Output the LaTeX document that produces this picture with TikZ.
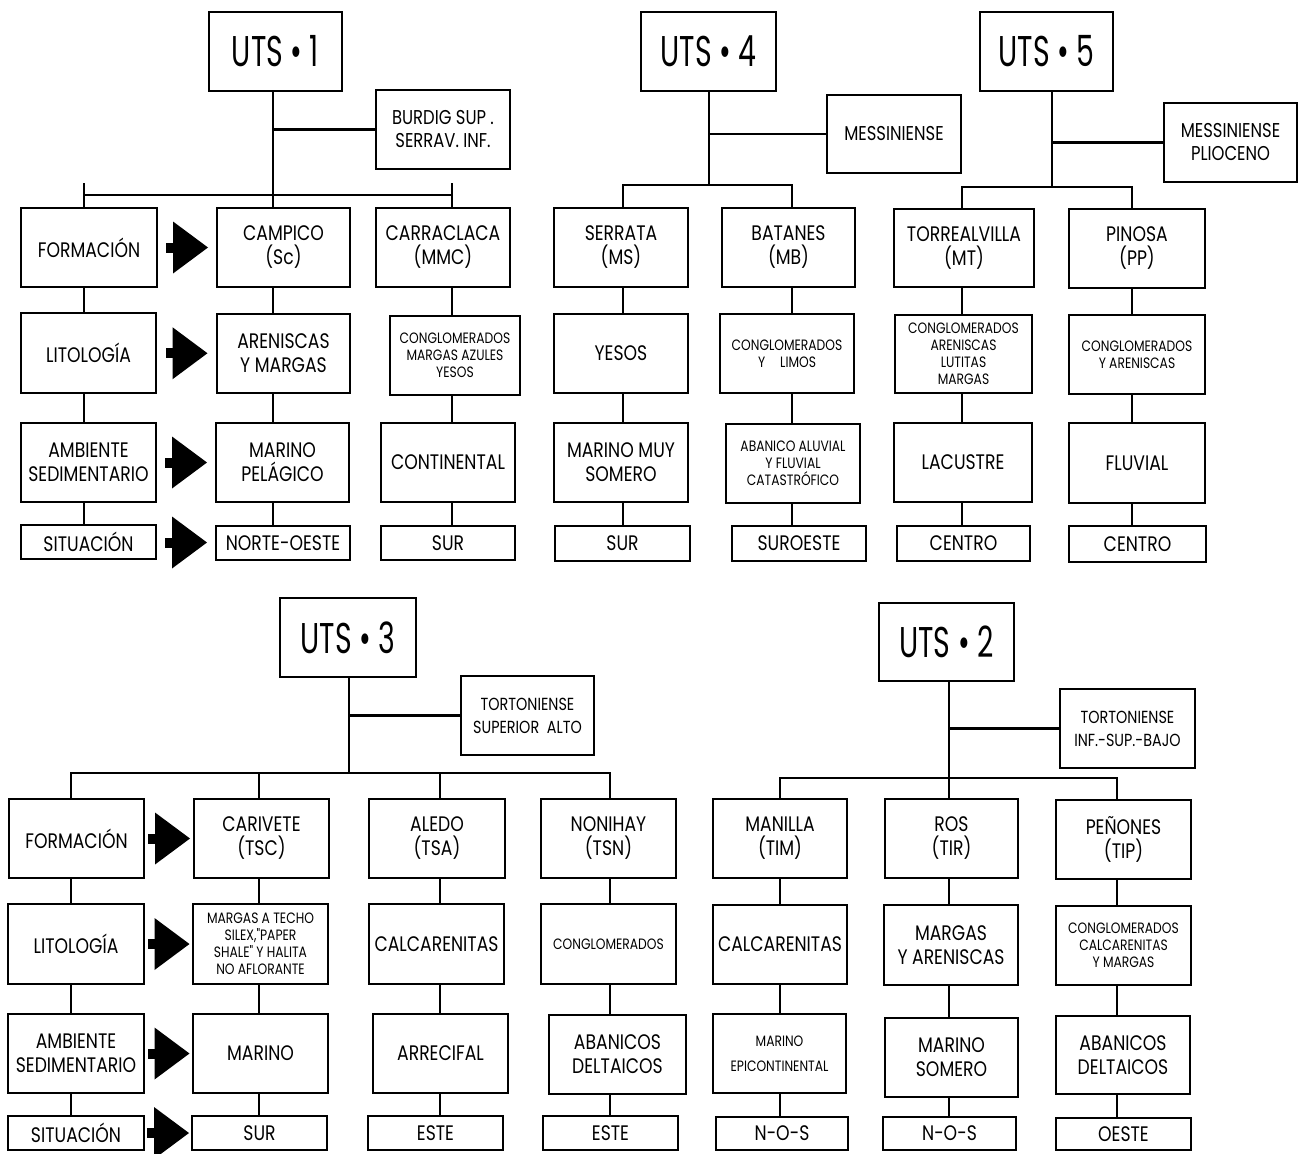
\documentclass[tikz,border=0pt]{standalone}
\usepackage{fontspec}
\newfontfamily\bodyfont{Poppins}[FakeStretch=0.82]
\newfontfamily\utsfont{Poppins}[FakeStretch=0.66]
\usetikzlibrary{calc}
\tikzset{
 box/.style={draw, line width=2.6pt, inner sep=0pt, align=center, font=\bodyfont\fontsize{21}{24}\selectfont},
 sm/.style={font=\bodyfont\fontsize{15}{17}\selectfont},
 md/.style={font=\bodyfont\fontsize{17.5}{23}\selectfont},
 mdl/.style={font=\bodyfont\fontsize{20}{23}\selectfont},
 uts/.style={font=\utsfont\fontsize{43}{44}\selectfont},
 link/.style={line width=2.1pt},
}
\newcommand\mybox[7][]{%
  \pgfmathsetmacro\bxcx{(#3+#5)/2}%
  \pgfmathsetmacro\bxcy{(#4+#6)/2}%
  \pgfmathsetmacro\bxw{#5-#3}%
  \pgfmathsetmacro\bxh{#6-#4}%
  \node[box,#1,minimum width=\bxw pt,minimum height=\bxh pt] (#2) at (\bxcx,\bxcy) {#7};}
\newcommand\vl[3]{\draw[link] (#1 |- #2.south) -- (#1 |- #3.north);}
\newcommand\barrow[2]{%
 \coordinate (m) at ($(#1.east)!0.5!(#2.west)$);
 \fill ([shift={(-21pt,-5pt)}]m) rectangle ([shift={(-13pt,5pt)}]m);
 \fill ([shift={(-14pt,-26pt)}]m) -- ([shift={(21pt,0pt)}]m) -- ([shift={(-14pt,26pt)}]m) -- cycle;}
\begin{document}
\begin{tikzpicture}[x=1pt,y=-1pt]
\useasboundingbox (0,0) rectangle (1300,1153);
% ---------- UTS 1
\mybox[uts]{uts1}{209}{12}{342}{91}{UTS • 1}
\mybox[mdl]{burdig}{376}{90}{510}{169}{BURDIG SUP .\\SERRAV. INF.}
\mybox{form1}{21}{208}{157}{287}{FORMACIÓN}
\mybox{campico}{217}{208}{350}{287}{CAMPICO\\(Sc)}
\mybox{carra}{376}{208}{510}{287}{CARRACLACA\\(MMC)}
\mybox{lit1}{21}{313}{156}{393}{LITOLOGÍA}
\mybox{aren1}{217}{314}{350}{393}{ARENISCAS\\Y MARGAS}
\mybox[sm]{congl1}{390}{316}{520}{395}{CONGLOMERADOS\\MARGAS AZULES\\YESOS}
\mybox{amb1}{21}{423}{156}{502}{AMBIENTE\\SEDIMENTARIO}
\mybox{marpel}{216}{423}{349}{502}{MARINO\\PELÁGICO}
\mybox{conti}{381}{423}{515}{502}{CONTINENTAL}
\mybox{sit1}{21}{525}{156}{559}{SITUACIÓN}
\mybox{noroe}{216}{526}{350}{560}{NORTE-OESTE}
\mybox{sur1}{381}{526}{515}{560}{SUR}
\coordinate (a0) at (84,183); \coordinate (a1) at (273,195); \coordinate (a2) at (452,183);
\draw[link] (a0 |- a1) -- (a2 |- a1);
\draw[link] (a0) -- (a0 |- form1.north);
\draw[link] (a2) -- (a2 |- carra.north);
\draw[link] (a1 |- uts1.south) -- (a1 |- campico.north);
\draw[link] (burdig.west -| a1) -- (burdig.west);
\vl{a0}{form1}{lit1} \vl{a0}{lit1}{amb1} \vl{a0}{amb1}{sit1}
\vl{a1}{campico}{aren1} \vl{a1}{aren1}{marpel} \vl{a1}{marpel}{noroe}
\vl{a2}{carra}{congl1} \vl{a2}{congl1}{conti} \vl{a2}{conti}{sur1}
\barrow{form1}{campico} \barrow{lit1}{aren1} \barrow{amb1}{marpel} \barrow{sit1}{noroe}
% ---------- UTS 4
\mybox[uts]{uts4}{641}{12}{776}{91}{UTS • 4}
\mybox[mdl]{mess}{827}{95}{961}{173}{MESSINIENSE}
\mybox{serrata}{554}{208}{688}{287}{SERRATA\\(MS)}
\mybox{batanes}{722}{208}{855}{287}{BATANES\\(MB)}
\mybox{yesos}{554}{314}{688}{393}{YESOS}
\mybox[sm]{conglim}{720}{314}{854}{393}{CONGLOMERADOS\\Y\quad LIMOS}
\mybox{mmsom}{554}{423}{688}{502}{MARINO MUY\\SOMERO}
\mybox[sm]{abal}{726}{424}{860}{503}{ABANICO ALUVIAL\\Y FLUVIAL\\CATASTRÓFICO}
\mybox{sur4}{555}{526}{690}{561}{SUR}
\mybox{suroe}{732}{526}{866}{561}{SUROESTE}
\coordinate (b0) at (623,185); \coordinate (b1) at (709,185); \coordinate (b2) at (792,185);
\draw[link] (b0 |- serrata.north) -- (b0) -- (b2) -- (b2 |- batanes.north);
\draw[link] (b1 |- uts4.south) -- (b1);
\draw[link] (mess.west -| b1) -- (mess.west);
\vl{b0}{serrata}{yesos} \vl{b0}{yesos}{mmsom} \vl{b0}{mmsom}{sur4}
\vl{b2}{batanes}{conglim} \vl{b2}{conglim}{abal} \vl{b2}{abal}{suroe}
% ---------- UTS 5
\mybox[uts]{uts5}{980}{12}{1113}{91}{UTS • 5}
\mybox[mdl]{mespl}{1164}{103}{1297}{182}{MESSINIENSE\\PLIOCENO}
\mybox{torre}{894}{209}{1034}{287}{TORREALVILLA\\(MT)}
\mybox{pinosa}{1069}{209}{1205}{288}{PINOSA\\(PP)}
\mybox[sm]{conglar}{895}{315}{1032}{393}{CONGLOMERADOS\\ARENISCAS\\LUTITAS\\MARGAS}
\mybox[sm]{conglar2}{1069}{315}{1205}{394}{CONGLOMERADOS\\Y ARENISCAS}
\mybox{lacus}{894}{423}{1032}{502}{LACUSTRE}
\mybox{fluv}{1069}{423}{1205}{503}{FLUVIAL}
\mybox{centro1}{897}{526}{1030}{561}{CENTRO}
\mybox{centro2}{1069}{526}{1206}{562}{CENTRO}
\coordinate (c0) at (962,187); \coordinate (c1) at (1052,187); \coordinate (c2) at (1132,187);
\draw[link] (c0 |- torre.north) -- (c0) -- (c2) -- (c2 |- pinosa.north);
\draw[link] (c1 |- uts5.south) -- (c1);
\draw[link] (mespl.west -| c1) -- (mespl.west);
\vl{c0}{torre}{conglar} \vl{c0}{conglar}{lacus} \vl{c0}{lacus}{centro1}
\vl{c2}{pinosa}{conglar2} \vl{c2}{conglar2}{fluv} \vl{c2}{fluv}{centro2}
% ---------- UTS 3
\mybox[uts]{uts3}{280}{598}{416}{677}{UTS • 3}
\mybox[md]{tortsup}{461}{676}{594}{755}{TORTONIENSE\\SUPERIOR\ \ ALTO}
\mybox{form3}{9}{799}{144}{878}{FORMACIÓN}
\mybox{carivete}{194}{799}{329}{878}{CARIVETE\\(TSC)}
\mybox{aledo}{369}{799}{505}{878}{ALEDO\\(TSA)}
\mybox{nonihay}{541}{799}{676}{878}{NONIHAY\\(TSN)}
\mybox{lit3}{8}{904}{144}{984}{LITOLOGÍA}
\mybox[sm]{margtecho}{193}{904}{328}{984}{MARGAS A TECHO\\SILEX,"PAPER\\SHALE" Y HALITA\\NO AFLORANTE}
\mybox{calc3}{369}{904}{504}{984}{CALCARENITAS}
\mybox[sm]{congl3}{541}{904}{676}{984}{CONGLOMERADOS}
\mybox{amb3}{8}{1014}{144}{1093}{AMBIENTE\\SEDIMENTARIO}
\mybox{marino3}{193}{1014}{328}{1093}{MARINO}
\mybox{arrec}{373}{1014}{508}{1093}{ARRECIFAL}
\mybox{abdel3}{549}{1015}{686}{1094}{ABANICOS\\DELTAICOS}
\mybox{sit3}{8}{1116}{144}{1150}{SITUACIÓN}
\mybox{sur3}{192}{1116}{327}{1150}{SUR}
\mybox{este1}{368}{1116}{503}{1150}{ESTE}
\mybox{este2}{543}{1116}{678}{1150}{ESTE}
\coordinate (d0) at (71,773); \coordinate (d1) at (259,773); \coordinate (dS) at (349,773);
\coordinate (d2) at (440,773); \coordinate (d3) at (610,773);
\draw[link] (d0 |- form3.north) -- (d0) -- (d3) -- (d3 |- nonihay.north);
\draw[link] (d1) -- (d1 |- carivete.north);
\draw[link] (d2) -- (d2 |- aledo.north);
\draw[link] (dS |- uts3.south) -- (dS);
\draw[link] (tortsup.west -| dS) -- (tortsup.west);
\vl{d0}{form3}{lit3} \vl{d0}{lit3}{amb3} \vl{d0}{amb3}{sit3}
\vl{d1}{carivete}{margtecho} \vl{d1}{margtecho}{marino3} \vl{d1}{marino3}{sur3}
\vl{d2}{aledo}{calc3} \vl{d2}{calc3}{arrec} \vl{d2}{arrec}{este1}
\vl{d3}{nonihay}{congl3} \vl{d3}{congl3}{abdel3} \vl{d3}{abdel3}{este2}
\barrow{form3}{carivete} \barrow{lit3}{margtecho} \barrow{amb3}{marino3} \barrow{sit3}{sur3}
% ---------- UTS 2
\mybox[uts]{uts2}{879}{603}{1014}{681}{UTS • 2}
\mybox[md]{tortinf}{1060}{689}{1195}{768}{TORTONIENSE\\INF.-SUP.-BAJO}
\mybox{manilla}{713}{799}{847}{878}{MANILLA\\(TIM)}
\mybox{ros}{885}{799}{1018}{878}{ROS\\(TIR)}
\mybox{penones}{1056}{800}{1191}{879}{PEÑONES\\(TIP)}
\mybox{calc2}{713}{905}{847}{984}{CALCARENITAS}
\mybox{margaren}{884}{905}{1018}{985}{MARGAS\\Y ARENISCAS}
\mybox[sm]{conglcalc}{1056}{906}{1191}{985}{CONGLOMERADOS\\CALCARENITAS\\Y MARGAS}
\mybox[sm]{marepi}{713}{1014}{846}{1093}{MARINO\\[8pt]EPICONTINENTAL}
\mybox{marsom}{885}{1018}{1018}{1097}{MARINO\\SOMERO}
\mybox{abdel2}{1056}{1016}{1190}{1094}{ABANICOS\\DELTAICOS}
\mybox{nos1}{716}{1117}{848}{1150}{N-O-S}
\mybox{nos2}{883}{1117}{1016}{1150}{N-O-S}
\mybox{oeste}{1056}{1118}{1191}{1150}{OESTE}
\coordinate (e0) at (780,778); \coordinate (e1) at (949,778); \coordinate (e2) at (1117,778);
\draw[link] (e0 |- manilla.north) -- (e0) -- (e2) -- (e2 |- penones.north);
\draw[link] (e1 |- uts2.south) -- (e1 |- ros.north);
\draw[link] (tortinf.west -| e1) -- (tortinf.west);
\vl{e0}{manilla}{calc2} \vl{e0}{calc2}{marepi} \vl{e0}{marepi}{nos1}
\vl{e1}{ros}{margaren} \vl{e1}{margaren}{marsom} \vl{e1}{marsom}{nos2}
\vl{e2}{penones}{conglcalc} \vl{e2}{conglcalc}{abdel2} \vl{e2}{abdel2}{oeste}
\end{tikzpicture}
\end{document}
